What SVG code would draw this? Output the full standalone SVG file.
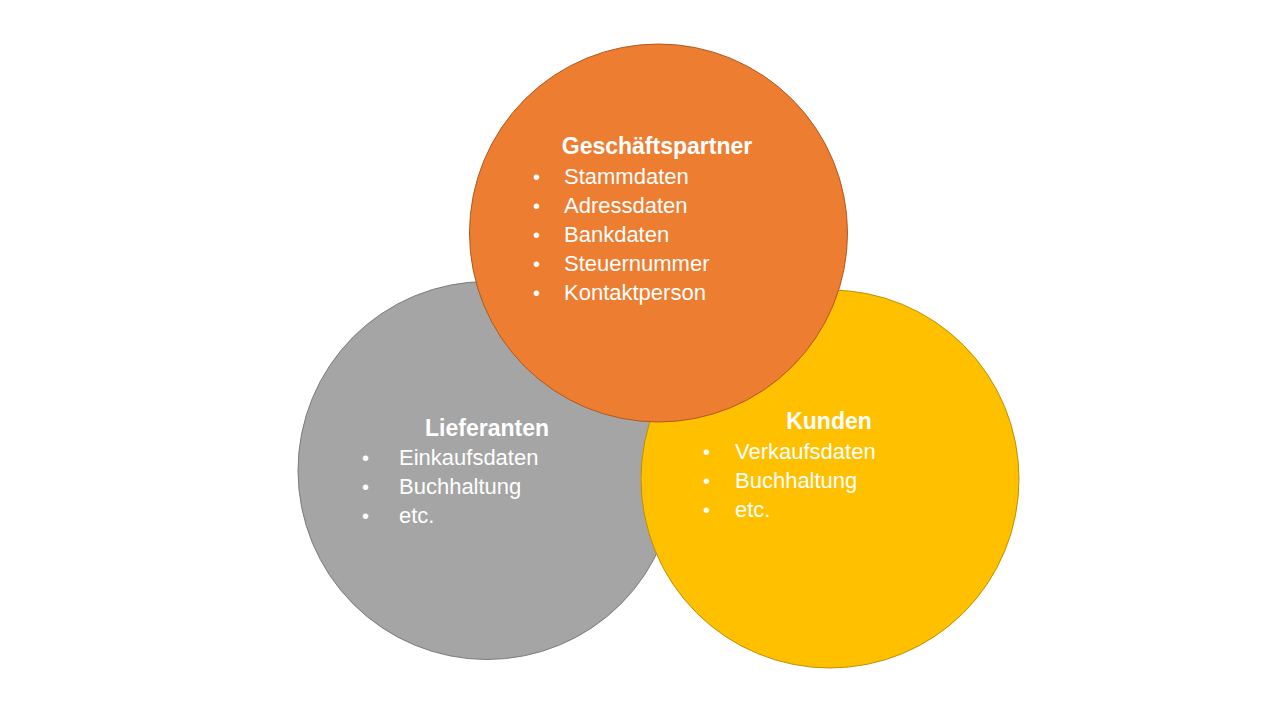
<svg xmlns="http://www.w3.org/2000/svg" width="1280" height="720" viewBox="0 0 1280 720">
<style>
.t{font-family:"Liberation Sans","Open Sans",Arial,sans-serif;fill:#FFFFFF;font-size:22px}
.h{font-weight:bold;font-size:23px;text-anchor:middle}
.b{font-size:20px}
</style>
<rect width="1280" height="720" fill="#FFFFFF"/>
<g id="lieferanten">
<circle cx="487" cy="470.5" r="189" fill="#A5A5A5" stroke="#7C7C7C" stroke-width="1"/>
<text class="t h" x="487" y="436">Lieferanten</text>
<text class="t b" x="362" y="465">•</text><text class="t" x="399" y="465">Einkaufsdaten</text>
<text class="t b" x="362" y="494">•</text><text class="t" x="399" y="494">Buchhaltung</text>
<text class="t b" x="362" y="523">•</text><text class="t" x="399" y="523">etc.</text>
</g>
<g id="kunden">
<circle cx="830" cy="479" r="189" fill="#FFC000" stroke="#BF9000" stroke-width="1"/>
<text class="t h" x="829" y="429">Kunden</text>
<text class="t b" x="703" y="459">•</text><text class="t" x="735" y="459">Verkaufsdaten</text>
<text class="t b" x="703" y="488">•</text><text class="t" x="735" y="488">Buchhaltung</text>
<text class="t b" x="703" y="517">•</text><text class="t" x="735" y="517">etc.</text>
</g>
<g id="geschaeftspartner">
<circle cx="658.5" cy="233" r="189" fill="#ED7D31" stroke="#AE5A21" stroke-width="1"/>
<text class="t h" x="657" y="154">Geschäftspartner</text>
<text class="t b" x="533" y="184">•</text><text class="t" x="564" y="184">Stammdaten</text>
<text class="t b" x="533" y="213">•</text><text class="t" x="564" y="213">Adressdaten</text>
<text class="t b" x="533" y="242">•</text><text class="t" x="564" y="242">Bankdaten</text>
<text class="t b" x="533" y="271">•</text><text class="t" x="564" y="271">Steuernummer</text>
<text class="t b" x="533" y="300">•</text><text class="t" x="564" y="300">Kontaktperson</text>
</g>
<g id="connectors"></g>
</svg>
